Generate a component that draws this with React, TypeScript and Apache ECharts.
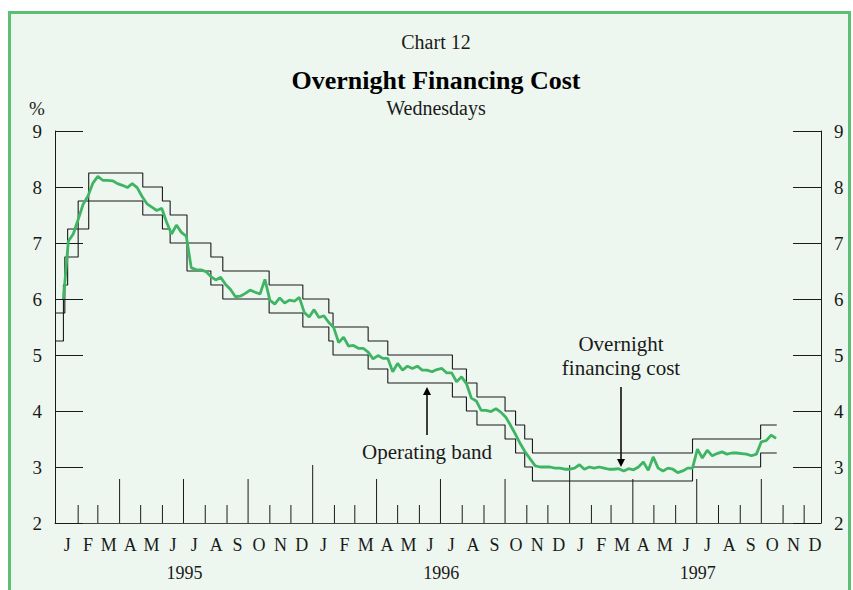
import React, { useEffect, useRef } from "react";
import * as echarts from "echarts";

// ---- Data ----
const monthLetters = ["J", "F", "M", "A", "M", "J", "J", "A", "S", "O", "N", "D"];
const yearLabels = ["1995", "1996", "1997"];
const yTicks = [2, 3, 4, 5, 6, 7, 8, 9];

// Weekly (Wednesday) overnight financing cost, %, starting 1995-01-11
const rateStart = [1995, 1, 11];
const overnightRate = [
  6.0, 7.03, 7.16, 7.42, 7.69, 7.84, 8.07, 8.19, 8.12, 8.12,
  8.11, 8.06, 8.03, 7.99, 8.06, 7.99, 7.83, 7.7, 7.64, 7.58,
  7.62, 7.37, 7.16, 7.32, 7.19, 7.12, 6.56, 6.52, 6.52, 6.49,
  6.4, 6.34, 6.39, 6.26, 6.17, 6.04, 6.05, 6.1, 6.16, 6.12,
  6.09, 6.35, 5.98, 5.91, 6.02, 5.93, 5.98, 5.96, 6.03, 5.76,
  5.68, 5.81, 5.67, 5.7, 5.58, 5.49, 5.22, 5.32, 5.16, 5.17,
  5.12, 5.12, 5.05, 4.93, 4.99, 4.94, 4.94, 4.7, 4.85, 4.73,
  4.8, 4.76, 4.8, 4.73, 4.73, 4.7, 4.74, 4.76, 4.68, 4.68,
  4.52, 4.61, 4.49, 4.23, 4.18, 4.01, 4.01, 3.99, 4.04, 3.98,
  3.89, 3.74, 3.58, 3.41, 3.26, 3.14, 3.02, 3.0, 3.0, 3.0,
  2.98, 2.98, 2.96, 2.96, 2.98, 3.04, 2.96, 3.0, 2.98, 3.0,
  2.98, 2.96, 2.96, 2.97, 2.93, 2.97, 2.95, 3.0, 3.09, 2.94,
  3.18, 2.98, 2.93, 2.98, 2.96, 2.9, 2.93, 2.98, 2.98, 3.32,
  3.16, 3.3, 3.2, 3.24, 3.27, 3.23, 3.25, 3.25, 3.24, 3.23,
  3.2, 3.23, 3.45, 3.47, 3.57, 3.51,
];

// Operating band: dates on which the band changed, with upper and lower limits
const bandDates = [
  "1994-12-30", "1995-01-11", "1995-01-13", "1995-01-17", "1995-02-01", "1995-02-16",
  "1995-05-04", "1995-06-01", "1995-06-12", "1995-07-06", "1995-08-09", "1995-08-26",
  "1995-10-31", "1995-12-18", "1996-01-24", "1996-01-30", "1996-03-20", "1996-04-17",
  "1996-07-18", "1996-08-07", "1996-08-22", "1996-10-01", "1996-10-16", "1996-10-29",
  "1996-11-09", "1997-06-25", "1997-09-30", "1997-10-23",
];
const upperBand = [
  5.75, 6.25, 6.75, 7.25, 7.75, 8.25, 8.0, 7.75, 7.5, 7.0, 6.75, 6.5, 6.25, 6.0,
  5.75, 5.5, 5.25, 5.0, 4.75, 4.5, 4.25, 4.0, 3.75, 3.5, 3.25, 3.5, 3.75, 3.75,
];
const lowerBand = [
  5.25, 5.75, 6.25, 6.75, 7.25, 7.75, 7.5, 7.25, 7.0, 6.5, 6.25, 6.0, 5.75, 5.5,
  5.25, 5.0, 4.75, 4.5, 4.25, 4.0, 3.75, 3.5, 3.25, 3.0, 2.75, 3.0, 3.25, 3.25,
];

const axisStart = "1994-12-30";
const axisEnd = "1997-12-25";

const FONT = "'Liberation Serif', 'Times New Roman', serif";
const GREEN = "#3fb563";
const INK = "#1a1a1a";

function toTime(s: string): number {
  const [y, m, d] = s.split("-").map(Number);
  return new Date(y, m - 1, d).getTime();
}

export default function App() {
  const ref = useRef<HTMLDivElement>(null);

  useEffect(() => {
    if (!ref.current) return;
    const chart = echarts.init(ref.current, undefined, { renderer: "svg" });

    const rateData = overnightRate.map((v, i) => [
      new Date(rateStart[0], rateStart[1] - 1, rateStart[2] + 7 * i).getTime(),
      v,
    ]);
    const upperData = bandDates.map((d, i) => [toTime(d), upperBand[i]]);
    const lowerData = bandDates.map((d, i) => [toTime(d), lowerBand[i]]);

    // month boundary ticks and month/year labels
    const tickData: number[][] = [];
    const monthLabelData: number[][] = [];
    const monthLabelText: string[] = [];
    const yearLabelData: number[][] = [];
    yearLabels.forEach((yl, yi) => {
      const y = Number(yl);
      monthLetters.forEach((ml, mi) => {
        if (!(yi === 0 && mi === 0)) {
          const kind = mi === 0 ? 2 : mi % 3 === 0 ? 1 : 0;
          tickData.push([new Date(y, mi, 1).getTime(), yTicks[0], kind]);
        }
        const s = new Date(y, mi, 1).getTime();
        const e = new Date(y, mi + 1, 1).getTime();
        monthLabelData.push([(s + e) / 2, yTicks[0]]);
        monthLabelText.push(ml);
      });
      yearLabelData.push([(new Date(y, 0, 1).getTime() + new Date(y + 1, 0, 1).getTime()) / 2, yTicks[0]]);
    });

    const yAxisCommon = {
      type: "value",
      min: yTicks[0],
      max: yTicks[yTicks.length - 1],
      interval: 1,
      axisLine: { show: true, lineStyle: { color: INK, width: 1 } },
      axisTick: { show: true, inside: true, length: 28, lineStyle: { color: INK, width: 1 } },
      axisLabel: { color: INK, fontFamily: FONT, fontSize: 19, margin: 13 },
      splitLine: { show: false },
    };

    const option: any = {
      animation: false,
      grid: { left: 55, right: 32, top: 131, bottom: 67 },
      xAxis: {
        type: "time",
        min: toTime(axisStart),
        max: toTime(axisEnd),
        axisLine: { show: true, lineStyle: { color: "#444", width: 1 } },
        axisTick: { show: false },
        axisLabel: { show: false },
        splitLine: { show: false },
      },
      yAxis: [
        { ...yAxisCommon, position: "left" },
        { ...yAxisCommon, position: "right" },
      ],
      graphic: [
        { type: "text", x: 436, y: 42, style: { text: "Chart 12", font: `20px ${FONT}`, fill: INK, align: "center", verticalAlign: "middle" } },
        { type: "text", x: 436, y: 80, style: { text: "Overnight Financing Cost", font: `bold 26px ${FONT}`, fill: "#000", align: "center", verticalAlign: "middle" } },
        { type: "text", x: 436, y: 108, style: { text: "Wednesdays", font: `20px ${FONT}`, fill: INK, align: "center", verticalAlign: "middle" } },
        { type: "text", x: 37, y: 108, style: { text: "%", font: `19px ${FONT}`, fill: INK, align: "center", verticalAlign: "middle" } },
        { type: "text", x: 621, y: 344, style: { text: "Overnight", font: `21px ${FONT}`, fill: INK, align: "center", verticalAlign: "middle" } },
        { type: "text", x: 621, y: 368, style: { text: "financing cost", font: `21px ${FONT}`, fill: INK, align: "center", verticalAlign: "middle" } },
        { type: "line", shape: { x1: 621, y1: 387, x2: 621, y2: 460 }, style: { stroke: "#000", lineWidth: 1.5 } },
        { type: "polygon", shape: { points: [[617, 459], [625, 459], [621, 467]] }, style: { fill: "#000" } },
        { type: "text", x: 427, y: 452, style: { text: "Operating band", font: `21px ${FONT}`, fill: INK, align: "center", verticalAlign: "middle" } },
        { type: "line", shape: { x1: 427, y1: 393, x2: 427, y2: 435 }, style: { stroke: "#000", lineWidth: 1.5 } },
        { type: "polygon", shape: { points: [[423, 395], [431, 395], [427, 387]] }, style: { fill: "#000" } },
      ],
      series: [
        {
          type: "line",
          name: "Upper band",
          data: upperData,
          step: "end",
          showSymbol: false,
          lineStyle: { color: INK, width: 1.1 },
          silent: true,
          z: 2,
        },
        {
          type: "line",
          name: "Lower band",
          data: lowerData,
          step: "end",
          showSymbol: false,
          lineStyle: { color: INK, width: 1.1 },
          silent: true,
          z: 2,
        },
        {
          type: "line",
          name: "Overnight financing cost",
          data: rateData,
          showSymbol: false,
          lineStyle: { color: GREEN, width: 2.8 },
          silent: true,
          z: 3,
        },
        {
          type: "custom",
          name: "month ticks",
          data: tickData,
          clip: false,
          silent: true,
          encode: { x: 0, y: 1 },
          renderItem: (params: any, api: any) => {
            const p = api.coord([api.value(0), api.value(1)]);
            const kind = api.value(2);
            const len = kind === 2 ? 58 : kind === 1 ? 44 : 18;
            return {
              type: "line",
              shape: { x1: p[0], y1: p[1], x2: p[0], y2: p[1] - len },
              style: { stroke: INK, lineWidth: 1 },
            };
          },
          z: 1,
        },
        {
          type: "custom",
          name: "month labels",
          data: monthLabelData,
          clip: false,
          silent: true,
          encode: { x: 0, y: 1 },
          renderItem: (params: any, api: any) => {
            const p = api.coord([api.value(0), api.value(1)]);
            return {
              type: "text",
              x: p[0],
              y: p[1] + 22,
              style: {
                text: monthLabelText[params.dataIndex],
                font: `18px ${FONT}`,
                fill: INK,
                align: "center",
                verticalAlign: "middle",
              },
            };
          },
        },
        {
          type: "custom",
          name: "year labels",
          data: yearLabelData,
          clip: false,
          silent: true,
          encode: { x: 0, y: 1 },
          renderItem: (params: any, api: any) => {
            const p = api.coord([api.value(0), api.value(1)]);
            return {
              type: "text",
              x: p[0],
              y: p[1] + 50,
              style: {
                text: yearLabels[params.dataIndex],
                font: `18px ${FONT}`,
                fill: INK,
                align: "center",
                verticalAlign: "middle",
              },
            };
          },
        },
      ],
    };

    chart.setOption(option);
    return () => chart.dispose();
  }, []);

  return (
    <div style={{ position: "fixed", left: 0, top: 0, width: 853, height: 590, background: "#fff", overflow: "hidden" }}>
      <div
        style={{
          position: "absolute",
          left: 8,
          top: 11,
          width: 843,
          height: 620,
          boxSizing: "border-box",
          border: "3px solid #5cbf72",
          borderBottom: "none",
          background: "#edf7ef",
        }}
      />
      <div ref={ref} style={{ position: "absolute", left: 0, top: 0, width: 853, height: 590 }} />
    </div>
  );
}
